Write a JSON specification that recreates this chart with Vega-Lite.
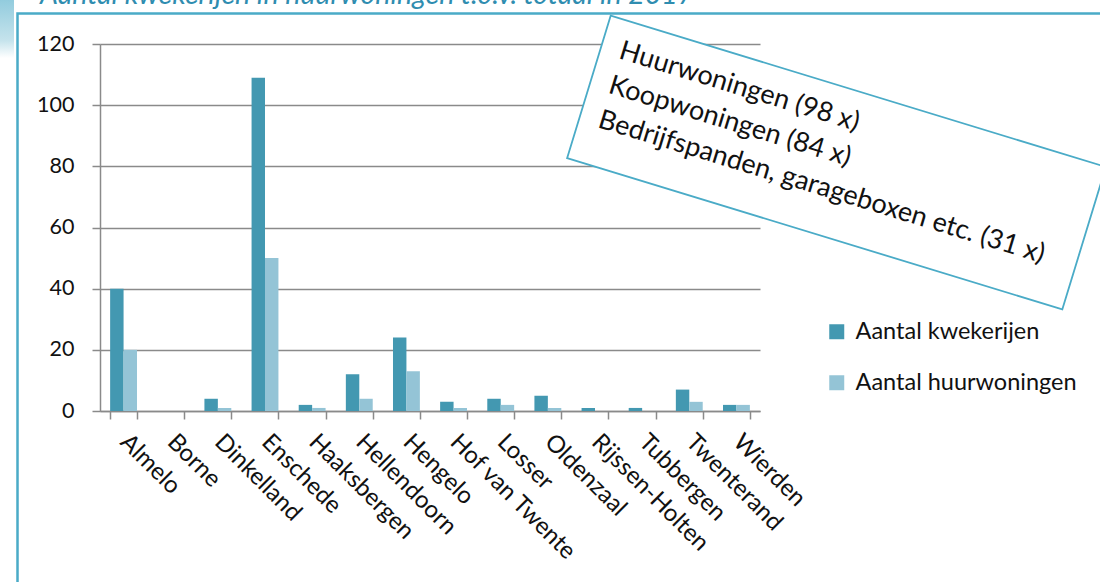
{
  "$schema": "https://vega.github.io/schema/vega-lite/v6.json",
  "autosize": "none",
  "width": 660,
  "height": 367,
  "padding": {"left": 100, "top": 44, "right": 340, "bottom": 171},
  "background": "white",
  "config": {
    "view": {"stroke": null},
    "font": "Lato",
    "axis": {"labelFont": "Lato", "labelColor": "#111111"}
  },
  "datasets": {
    "kwekerijen": [
      {"gemeente": "Almelo", "reeks": "Aantal kwekerijen", "aantal": 40},
      {"gemeente": "Almelo", "reeks": "Aantal huurwoningen", "aantal": 20},
      {"gemeente": "Borne", "reeks": "Aantal kwekerijen", "aantal": 0},
      {"gemeente": "Borne", "reeks": "Aantal huurwoningen", "aantal": 0},
      {"gemeente": "Dinkelland", "reeks": "Aantal kwekerijen", "aantal": 4},
      {"gemeente": "Dinkelland", "reeks": "Aantal huurwoningen", "aantal": 1},
      {"gemeente": "Enschede", "reeks": "Aantal kwekerijen", "aantal": 109},
      {"gemeente": "Enschede", "reeks": "Aantal huurwoningen", "aantal": 50},
      {"gemeente": "Haaksbergen", "reeks": "Aantal kwekerijen", "aantal": 2},
      {"gemeente": "Haaksbergen", "reeks": "Aantal huurwoningen", "aantal": 1},
      {"gemeente": "Hellendoorn", "reeks": "Aantal kwekerijen", "aantal": 12},
      {"gemeente": "Hellendoorn", "reeks": "Aantal huurwoningen", "aantal": 4},
      {"gemeente": "Hengelo", "reeks": "Aantal kwekerijen", "aantal": 24},
      {"gemeente": "Hengelo", "reeks": "Aantal huurwoningen", "aantal": 13},
      {"gemeente": "Hof van Twente", "reeks": "Aantal kwekerijen", "aantal": 3},
      {"gemeente": "Hof van Twente", "reeks": "Aantal huurwoningen", "aantal": 1},
      {"gemeente": "Losser", "reeks": "Aantal kwekerijen", "aantal": 4},
      {"gemeente": "Losser", "reeks": "Aantal huurwoningen", "aantal": 2},
      {"gemeente": "Oldenzaal", "reeks": "Aantal kwekerijen", "aantal": 5},
      {"gemeente": "Oldenzaal", "reeks": "Aantal huurwoningen", "aantal": 1},
      {"gemeente": "Rijssen-Holten", "reeks": "Aantal kwekerijen", "aantal": 1},
      {"gemeente": "Rijssen-Holten", "reeks": "Aantal huurwoningen", "aantal": 0},
      {"gemeente": "Tubbergen", "reeks": "Aantal kwekerijen", "aantal": 1},
      {"gemeente": "Tubbergen", "reeks": "Aantal huurwoningen", "aantal": 0},
      {"gemeente": "Twenterand", "reeks": "Aantal kwekerijen", "aantal": 7},
      {"gemeente": "Twenterand", "reeks": "Aantal huurwoningen", "aantal": 3},
      {"gemeente": "Wierden", "reeks": "Aantal kwekerijen", "aantal": 2},
      {"gemeente": "Wierden", "reeks": "Aantal huurwoningen", "aantal": 2}
    ],
    "annotatie": [
      {"regels": ["Huurwoningen (98 x)", "Koopwoningen (84 x)", "Bedrijfspanden, garageboxen etc. (31 x)"]}
    ],
    "titel": [
      {"tekst": "Aantal kwekerijen in huurwoningen t.o.v. totaal in 2017"}
    ]
  },
  "layer": [
    {
      "data": {"values": [{"k": 1}]},
      "mark": {"type": "rect", "fill": {"gradient": "linear", "x1": 0, "y1": 0, "x2": 0, "y2": 1, "stops": [{"offset": 0, "color": "#86c6da"}, {"offset": 0.7, "color": "#bfe0ea"}, {"offset": 1, "color": "#ffffff"}]}, "opacity": 0.9},
      "encoding": {
        "x": {"value": -100},
        "x2": {"value": -86},
        "y": {"value": -44},
        "y2": {"value": 14}
      }
    },
    {
      "data": {"values": [{"k": 1}]},
      "mark": {"type": "rect", "fill": null, "stroke": "#4aabc7", "strokeWidth": 2.5},
      "encoding": {
        "x": {"value": -82.5},
        "x2": {"value": 1060},
        "y": {"value": -30.5},
        "y2": {"value": 600}
      }
    },
    {
      "data": {"name": "kwekerijen"},
      "mark": {"type": "bar"},
      "encoding": {
        "x": {
          "field": "gemeente",
          "type": "nominal",
          "sort": null,
          "scale": {"paddingInner": 0.43, "paddingOuter": 0.215},
          "axis": {
            "title": null,
            "labelAngle": 45,
            "labelAlign": "left",
            "labelBaseline": "middle",
            "labelFontSize": 24,
            "labelPadding": 19,
            "labelLimit": 0,
            "tickBand": "extent",
            "tickSize": 8,
            "tickColor": "#8a8a8a",
            "tickWidth": 1.5,
            "domainColor": "#8a8a8a",
            "domainWidth": 1.5,
            "labelOverlap": false
          }
        },
        "xOffset": {"field": "reeks", "type": "nominal", "sort": ["Aantal kwekerijen", "Aantal huurwoningen"]},
        "y": {
          "field": "aantal",
          "type": "quantitative",
          "scale": {"domain": [0, 120], "nice": false},
          "axis": {
            "title": null,
            "values": [0, 20, 40, 60, 80, 100, 120],
            "labelFontSize": 21.5,
            "labelPadding": 18,
            "tickSize": 8,
            "tickColor": "#8a8a8a",
            "tickWidth": 1.5,
            "domainColor": "#8a8a8a",
            "domainWidth": 1.5,
            "grid": true,
            "gridColor": "#8a8a8a",
            "gridWidth": 1.5
          }
        },
        "color": {
          "field": "reeks",
          "type": "nominal",
          "sort": ["Aantal kwekerijen", "Aantal huurwoningen"],
          "scale": {"domain": ["Aantal kwekerijen", "Aantal huurwoningen"], "range": ["#4398b1", "#94c4d6"]},
          "legend": {
            "title": null,
            "orient": "none",
            "legendX": 725,
            "legendY": 276,
            "symbolType": "square",
            "symbolSize": 225,
            "symbolStrokeWidth": 0,
            "labelFontSize": 23.5,
            "labelFont": "Lato",
            "labelColor": "#111111",
            "labelLimit": 0,
            "rowPadding": 26,
            "labelOffset": 7
          }
        }
      }
    },
    {
      "data": {"values": [{"k": 1}]},
      "mark": {"type": "point", "shape": "M-1,-0.2877L1,-0.2877L1,0.2877L-1,0.2877Z", "filled": false, "fill": "white", "fillOpacity": 1, "stroke": "#4aabc7", "strokeWidth": 1.8, "opacity": 1},
      "encoding": {
        "x": {"value": 736.5},
        "y": {"value": 118.5},
        "size": {"value": 268117},
        "angle": {"value": 17}
      }
    },
    {
      "data": {"name": "annotatie"},
      "mark": {"type": "text", "align": "left", "baseline": "top", "angle": 17, "fontSize": 27, "lineHeight": 36, "font": "Lato", "color": "#111111"},
      "encoding": {
        "x": {"value": 524},
        "y": {"value": -6},
        "text": {"field": "regels"}
      }
    },
    {
      "data": {"name": "titel"},
      "mark": {"type": "text", "align": "left", "baseline": "alphabetic", "fontSize": 28.5, "fontStyle": "italic", "font": "Lato", "color": "#2f8db0"},
      "encoding": {
        "x": {"value": -60},
        "y": {"value": -40},
        "text": {"field": "tekst"}
      }
    }
  ]
}
